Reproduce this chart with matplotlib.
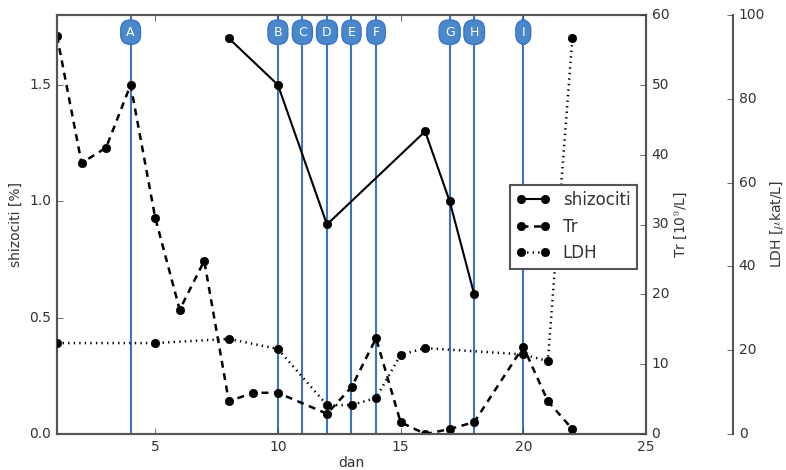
import matplotlib
matplotlib.use("Agg")
import matplotlib.pyplot as plt

plt.style.use("classic")
plt.rcParams["font.family"] = ["DejaVu Sans"]
plt.rcParams["text.color"] = "#333333"
plt.rcParams["xtick.color"] = "#333333"
plt.rcParams["ytick.color"] = "#333333"
plt.rcParams["axes.labelcolor"] = "#333333"

SPINE_GRAY = "#555555"
EVENT_BLUE = "#3d74c2"
BOX_BLUE = "#4a88cc"

# shizociti [%]
shiz_days = [8, 10, 12, 16, 17, 18]
shiz_vals = [1.7, 1.5, 0.9, 1.3, 1.0, 0.6]

# Tr [10^9/L]
tr_days = [1, 2, 3, 4, 5, 6, 7, 8, 9, 10, 12, 13, 14, 15, 16, 17, 18, 20, 21, 22]
tr_vals = [57, 38.8, 41, 50, 31, 17.8, 24.8, 4.7, 5.9, 5.9, 2.9, 6.7, 13.7,
           1.7, 0, 0.7, 1.7, 12.5, 4.7, 0.7]

# LDH [ukat/L]
ldh_days = [1, 5, 8, 10, 12, 13, 14, 15, 16, 20, 21, 22]
ldh_vals = [21.7, 21.7, 22.7, 20.3, 6.9, 6.9, 8.6, 18.9, 20.5, 19.0, 17.4, 94.5]

# events
event_days = [4, 10, 11, 12, 13, 14, 17, 18, 20]
event_labels = ["A", "B", "C", "D", "E", "F", "G", "H", "I"]

fig = plt.figure(figsize=(7.86, 4.70), dpi=100, facecolor="white")
ax = fig.add_axes([57 / 786, 36 / 470, 589 / 786, 419 / 470])
ax.set_facecolor("white")
ax_tr = ax.twinx()
ax_ldh = ax.twinx()
ax_ldh.spines["right"].set_position(("axes", 1.148))

for d, lab in zip(event_days, event_labels):
    ax.axvline(d, color=EVENT_BLUE, lw=1.5, zorder=1)
    ax.text(d, 0.959, lab, transform=ax.get_xaxis_transform(), ha="center",
            va="center", color="white", fontsize=9, zorder=5,
            bbox=dict(boxstyle="round,pad=0.45,rounding_size=0.75",
                      fc=BOX_BLUE, ec=EVENT_BLUE, lw=1))

l1, = ax.plot(shiz_days, shiz_vals, "-", color="black", lw=1.5, marker="o",
              ms=6, label="shizociti", zorder=3)
l2, = ax_tr.plot(tr_days, tr_vals, "--", color="black", lw=1.8, marker="o",
                 ms=6, label="Tr", dashes=(5, 4))
l3, = ax_ldh.plot(ldh_days, ldh_vals, ":", color="black", lw=1.8, marker="o",
                  ms=6, label="LDH")

ax.set_xlim(1, 25)
ax.set_xticks([5, 10, 15, 20, 25])
ax.set_ylim(0, 1.8)
ax.set_yticks([0.0, 0.5, 1.0, 1.5])
ax_tr.set_ylim(0, 60)
ax_tr.set_yticks(range(0, 61, 10))
ax_ldh.set_ylim(0, 100)
ax_ldh.set_yticks(range(0, 101, 20))

ax.set_xlabel("dan", fontsize=10, labelpad=2)
ax.set_ylabel("shizociti [%]", fontsize=10)
ax_tr.set_ylabel("Tr [10$^9$/L]", fontsize=10, labelpad=2)
ax_ldh.set_ylabel("LDH [$\\mu$kat/L]", fontsize=10, labelpad=2)

for a in (ax, ax_tr, ax_ldh):
    a.tick_params(labelsize=10, direction="in", length=4)
    for s in a.spines.values():
        s.set_color(SPINE_GRAY)
        s.set_linewidth(1.5)
ax_ldh.spines["left"].set_visible(False)
ax_ldh.spines["top"].set_visible(False)
ax_ldh.spines["bottom"].set_visible(False)

leg = ax_ldh.legend([l1, l2, l3], ["shizociti", "Tr", "LDH"], loc="center right",
                    bbox_to_anchor=(0.985, 0.495), borderaxespad=0,
                    numpoints=2, fontsize=12, fancybox=False, frameon=True,
                    handlelength=2)
leg.get_frame().set_edgecolor(SPINE_GRAY)
leg.get_frame().set_linewidth(1.5)

fig.savefig("out.png", dpi=100, facecolor="white")
